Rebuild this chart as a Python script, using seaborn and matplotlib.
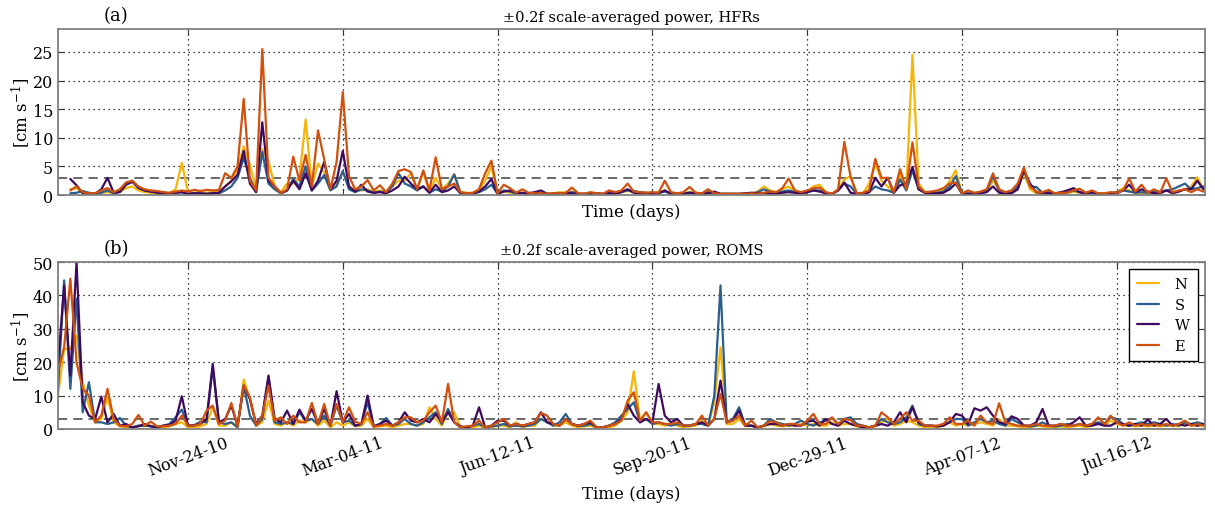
import numpy as np
import pandas as pd
import matplotlib
matplotlib.use("Agg")
import matplotlib.pyplot as plt
import matplotlib.dates as mdates
import seaborn as sns

nan = np.nan
start_date = "2010-09-01"
step_days = 4
end_date = "2012-09-11"
directions = ["N", "S", "W", "E"]
colors = ["#f5b50a", "#2a5e8c", "#3f0a5e", "#d0500e"]
tick_dates = ["2010-11-24", "2011-03-04", "2011-06-12", "2011-09-20",
              "2011-12-29", "2012-04-07", "2012-07-16"]
tick_labels = ["Nov-24-10", "Mar-04-11", "Jun-12-11", "Sep-20-11",
               "Dec-29-11", "Apr-07-12", "Jul-16-12"]
threshold = 3

# ---- (a) HFRs, one value every 4 days ----
hfr_N = [nan, nan, 1.0, 1.2, 0.4, 0.3, 0.3, 0.4, 0.5, 0.3,
         0.6, 1.2, 1.5, 0.8, 0.5, 0.4, 0.3, 0.2, 0.3, 1.0,
         5.6, 0.5, 0.4, 0.5, 0.4, 0.5, 0.6, 1.5, 2.5, 4.5,
         8.5, 5.3, 1.0, 8.0, 6.0, 1.5, 0.5, 2.0, 2.0, 3.0,
         13.2, 1.5, 5.5, 4.0, 1.0, 2.0, 4.0, 1.5, 0.8, 0.8,
         1.0, 0.5, 0.8, 0.6, 1.5, 2.5, 2.5, 3.8, 1.0, 4.0,
         0.5, 3.0, 1.0, 2.0, 3.6, 0.5, 0.4, 0.3, 0.8, 2.5,
         5.0, 0.3, 0.6, 0.4, 0.3, 0.4, 0.3, 0.3, 0.3, 0.2,
         0.3, 0.5, 0.4, 0.6, 0.3, 0.2, 0.3, 0.3, 0.2, 0.3,
         0.4, 0.5, 0.7, 0.5, 0.4, 0.3, 0.3, 0.5, 0.8, 0.3,
         0.2, 0.3, 0.5, 0.4, 0.3, 0.3, 0.3, 0.2, 0.2, 0.2,
         0.2, 0.2, 0.3, 0.6, 1.5, 0.8, 0.5, 1.0, 1.5, 0.6,
         0.4, 0.5, 1.5, 1.8, 0.5, 0.2, 1.0, 2.7, 3.3, 0.3,
         0.3, 2.0, 5.5, 2.5, 1.5, 0.5, 3.5, 1.0, 24.5, 2.0,
         0.5, 0.4, 0.4, 0.8, 2.5, 4.3, 0.3, 0.3, 0.3, 0.5,
         0.8, 2.5, 1.0, 0.4, 0.4, 1.0, 3.8, 1.0, 0.3, 0.3,
         0.4, 0.3, 0.2, 0.4, 0.6, 0.4, 0.3, 0.3, 0.2, 0.2,
         0.3, 0.5, 1.2, 0.8, 0.4, 0.3, 0.4, 0.3, 0.5, 0.8,
         0.5, 0.6, 1.0, 1.5, 3.1, 1.0]
hfr_S = [nan, nan, 0.3, 0.4, 0.7, 0.4, 0.2, 0.4, 0.8, 0.3,
         0.6, 2.0, 2.5, 1.2, 0.8, 0.6, 0.5, 0.4, 0.3, 0.4,
         0.5, 0.2, 0.3, 0.3, 0.2, 0.3, 0.3, 0.8, 1.5, 3.0,
         6.5, 3.0, 0.5, 7.5, 2.0, 1.0, 0.3, 0.8, 2.8, 1.5,
         5.0, 0.8, 2.0, 3.5, 0.8, 1.5, 4.2, 1.0, 0.5, 1.0,
         0.8, 0.4, 0.6, 0.4, 1.5, 3.8, 2.0, 1.5, 0.8, 1.5,
         0.4, 1.0, 0.6, 1.5, 3.6, 0.4, 0.3, 0.3, 0.5, 1.0,
         1.8, 0.2, 0.8, 0.6, 0.3, 0.4, 0.3, 0.3, 0.3, 0.2,
         0.2, 0.3, 0.3, 0.5, 0.2, 0.2, 0.3, 0.2, 0.2, 0.5,
         0.4, 0.6, 0.8, 0.7, 0.5, 0.4, 0.3, 0.4, 0.6, 0.3,
         0.2, 0.3, 0.4, 0.3, 0.3, 0.5, 0.3, 0.2, 0.2, 0.2,
         0.2, 0.2, 0.2, 0.5, 1.0, 0.6, 0.4, 0.6, 0.8, 0.5,
         0.3, 0.5, 0.8, 0.8, 0.3, 0.2, 0.8, 2.0, 1.5, 0.2,
         0.2, 0.5, 1.5, 1.0, 0.8, 0.4, 2.7, 0.8, 4.3, 1.0,
         0.4, 0.5, 0.4, 0.6, 1.5, 3.3, 0.3, 0.3, 0.2, 0.4,
         0.8, 3.3, 0.8, 0.3, 0.4, 1.5, 4.3, 1.5, 1.4, 0.4,
         0.5, 0.3, 0.3, 0.5, 0.8, 0.5, 0.3, 0.4, 0.2, 0.2,
         0.3, 0.5, 0.8, 0.6, 0.4, 0.5, 0.4, 0.6, 0.6, 0.8,
         1.0, 1.5, 2.0, 1.0, 1.2, 1.5]
hfr_W = [nan, nan, 2.8, 1.7, 0.3, 0.2, 0.2, 1.0, 3.0, 0.4,
         0.5, 1.8, 2.3, 1.3, 0.8, 0.6, 0.4, 0.3, 0.3, 0.4,
         0.5, 0.2, 0.3, 0.3, 0.2, 0.3, 0.4, 1.5, 2.4, 3.5,
         7.7, 2.0, 0.5, 12.7, 2.5, 1.5, 0.3, 0.8, 2.5, 1.0,
         3.8, 0.8, 2.5, 5.8, 1.0, 2.5, 7.7, 1.5, 0.6, 1.8,
         0.6, 0.4, 0.5, 0.3, 0.8, 1.5, 3.2, 2.0, 1.0, 1.5,
         0.4, 1.8, 0.5, 0.8, 1.5, 0.3, 0.2, 0.3, 0.6, 1.5,
         2.8, 0.2, 0.6, 0.8, 0.4, 0.3, 0.3, 0.5, 0.8, 0.2,
         0.2, 0.2, 0.3, 0.3, 0.2, 0.2, 0.2, 0.3, 0.2, 0.3,
         0.2, 0.5, 1.0, 0.4, 0.3, 0.3, 0.2, 0.3, 0.8, 0.2,
         0.2, 0.2, 0.4, 0.3, 0.2, 0.3, 0.6, 0.2, 0.2, 0.2,
         0.2, 0.3, 0.4, 0.3, 0.3, 0.3, 0.2, 0.4, 0.5, 0.4,
         0.3, 0.5, 0.8, 0.6, 0.3, 0.2, 0.8, 2.2, 0.4, 0.2,
         0.2, 0.5, 3.0, 1.5, 3.0, 0.4, 1.7, 2.0, 4.9, 1.0,
         0.4, 0.3, 0.3, 0.4, 1.0, 2.0, 0.2, 0.2, 0.2, 0.3,
         0.5, 1.5, 0.4, 0.2, 0.3, 1.0, 4.3, 2.0, 0.5, 0.4,
         0.3, 0.3, 0.5, 0.8, 1.2, 0.5, 0.3, 0.5, 0.2, 0.2,
         0.3, 0.3, 0.8, 1.8, 0.5, 1.0, 0.6, 0.3, 0.3, 0.8,
         0.3, 0.6, 1.0, 1.0, 2.5, 1.0]
hfr_E = [nan, nan, 0.8, 1.5, 0.5, 0.3, 0.3, 0.8, 1.2, 0.5,
         1.0, 2.2, 2.5, 1.5, 1.0, 0.8, 0.7, 0.5, 0.4, 0.6,
         0.8, 0.6, 0.9, 0.7, 0.9, 0.8, 0.9, 3.8, 3.0, 5.0,
         16.8, 2.5, 0.8, 25.5, 3.0, 1.5, 0.3, 1.0, 6.7, 2.5,
         7.0, 1.5, 11.3, 6.2, 1.0, 5.8, 18.0, 3.3, 1.0, 1.5,
         2.6, 0.8, 1.7, 0.5, 2.0, 4.2, 4.5, 4.0, 1.0, 4.3,
         0.8, 6.6, 1.0, 1.5, 2.0, 0.5, 0.3, 0.4, 1.0, 3.8,
         6.0, 0.3, 1.8, 1.2, 0.4, 1.0, 0.4, 0.3, 0.3, 0.2,
         0.3, 0.3, 0.4, 1.3, 0.3, 0.2, 0.5, 0.3, 0.2, 0.8,
         0.5, 0.8, 2.0, 0.6, 0.5, 0.4, 0.5, 0.4, 2.5, 0.5,
         0.3, 0.5, 1.4, 0.4, 0.3, 1.0, 0.3, 0.2, 0.2, 0.2,
         0.2, 0.2, 0.3, 0.2, 0.4, 0.6, 0.5, 1.2, 2.9, 0.8,
         0.5, 0.8, 1.2, 1.3, 0.5, 0.2, 1.0, 9.3, 3.2, 0.3,
         0.4, 0.8, 6.3, 3.0, 3.0, 0.5, 4.5, 1.0, 9.2, 1.5,
         0.5, 0.6, 0.8, 1.2, 2.0, 2.2, 0.3, 0.8, 0.4, 0.6,
         1.0, 3.8, 1.0, 0.5, 0.8, 2.0, 4.8, 1.5, 0.6, 0.5,
         0.9, 0.3, 0.4, 0.4, 0.8, 1.1, 0.4, 0.8, 0.3, 0.3,
         0.5, 0.4, 0.8, 2.9, 0.6, 1.8, 0.4, 1.0, 0.4, 2.9,
         0.5, 0.8, 1.0, 0.5, 1.0, 0.6]

# ---- (b) ROMS, one value every 4 days ----
roms_N = [10, 24, 24, 28, 14, 7, 2, 3, 9.5, 2,
          0.8, 0.5, 0.5, 1.0, 0.8, 1.0, 0.5, 0.5, 0.8, 1.5,
          2.0, 0.5, 0.5, 0.8, 1.5, 6.5, 1.0, 1.0, 2.0, 0.5,
          14.8, 9.0, 1.0, 2.0, 8.5, 1.5, 1.0, 2.0, 1.0, 2.5,
          2.0, 3.0, 1.0, 2.5, 0.5, 2.0, 1.0, 2.0, 0.8, 1.0,
          3.0, 0.5, 0.8, 1.0, 0.5, 1.0, 1.5, 1.5, 1.0, 1.5,
          6.5, 3.0, 1.0, 5.0, 5.0, 0.5, 0.5, 0.5, 1.0, 0.3,
          0.5, 1.0, 1.0, 0.5, 2.0, 0.5, 1.0, 1.0, 3.0, 2.5,
          1.0, 1.0, 2.0, 1.0, 0.5, 0.8, 1.0, 0.3, 0.3, 0.5,
          1.0, 2.5, 5.0, 17.3, 2.5, 5.0, 1.5, 1.5, 1.0, 1.5,
          1.0, 0.5, 0.8, 1.0, 2.5, 1.0, 8.0, 24.5, 1.5, 1.5,
          3.0, 0.8, 1.0, 0.3, 0.8, 1.5, 1.0, 0.8, 1.0, 1.0,
          1.5, 1.0, 1.5, 1.0, 1.0, 2.0, 1.0, 1.5, 1.5, 0.8,
          0.5, 0.3, 0.8, 2.0, 3.0, 1.0, 1.5, 2.5, 2.0, 1.0,
          0.5, 0.5, 0.5, 1.0, 2.0, 1.0, 1.5, 1.0, 1.5, 2.0,
          1.5, 1.0, 3.0, 1.0, 1.0, 0.8, 0.5, 0.5, 1.0, 0.8,
          0.5, 0.5, 0.8, 0.5, 0.8, 1.0, 0.5, 1.0, 2.0, 1.0,
          2.5, 1.5, 1.0, 1.0, 0.8, 1.0, 0.8, 1.0, 0.8, 1.0,
          1.0, 0.8, 1.5, 1.0, 1.0, 1.0]
roms_S = [12, 44.5, 12, 39, 5, 14, 2, 2, 1.5, 2,
          3.3, 1.0, 0.5, 1.0, 1.0, 0.8, 0.5, 1.0, 1.5, 3.5,
          5.8, 1.0, 1.0, 2.2, 2.0, 18.5, 2.0, 1.5, 2.0, 0.5,
          13, 4.0, 1.0, 3.0, 15.5, 2.0, 1.5, 2.0, 1.5, 5.0,
          2.5, 3.0, 1.5, 4.0, 1.0, 7.0, 2.0, 2.5, 1.0, 1.5,
          8.0, 0.8, 1.5, 3.3, 1.0, 1.5, 3.0, 1.5, 1.0, 2.0,
          3.5, 5.0, 1.5, 6.0, 2.0, 0.5, 0.5, 1.0, 1.5, 0.5,
          0.8, 1.0, 1.5, 0.8, 1.0, 0.8, 1.0, 1.5, 3.0, 2.0,
          1.0, 2.0, 4.5, 1.5, 1.0, 1.0, 1.5, 0.5, 0.5, 1.0,
          2.0, 4.0, 6.0, 8.0, 2.0, 3.0, 1.5, 2.0, 1.5, 1.0,
          1.5, 1.0, 1.0, 1.5, 1.5, 1.0, 10, 43, 2.0, 3.0,
          6.5, 1.0, 1.0, 0.5, 1.0, 3.0, 2.0, 1.5, 1.0, 1.5,
          2.5, 1.5, 1.0, 2.0, 2.5, 3.3, 1.5, 3.0, 3.5, 1.5,
          1.0, 0.5, 1.0, 3.0, 2.0, 1.5, 2.0, 3.5, 7.0, 1.5,
          1.0, 1.0, 0.8, 1.5, 2.0, 3.0, 3.0, 1.0, 2.0, 3.0,
          2.0, 2.5, 1.5, 1.0, 3.0, 2.0, 1.0, 0.8, 1.0, 2.0,
          1.0, 0.8, 1.0, 1.5, 1.0, 1.5, 1.0, 1.5, 2.0, 1.5,
          3.5, 3.0, 1.5, 1.0, 1.5, 2.0, 1.5, 2.0, 1.5, 1.0,
          1.5, 1.0, 2.0, 1.5, 2.0, 1.5]
roms_W = [19, 42.9, 16, 50, 8, 4, 3, 9.7, 2, 4.5,
          1.0, 1.5, 0.5, 0.8, 1.5, 0.8, 0.5, 1.0, 1.2, 2.5,
          9.8, 1.0, 1.2, 1.5, 3.0, 19.5, 2.0, 3.0, 7.0, 1.0,
          13, 9, 1.5, 4, 16, 3, 2, 5.5, 1.5, 5.8,
          2.5, 6.0, 1.5, 6.0, 1.0, 11.3, 2.0, 4.5, 1.0, 1.5,
          10, 0.8, 1.5, 2.5, 1.0, 2.0, 5.0, 2.5, 2.0, 3.0,
          2.0, 4.5, 2.0, 5.0, 2.0, 0.8, 0.5, 1.0, 6.5, 0.5,
          1.0, 2.5, 2.5, 1.0, 1.5, 1.0, 1.5, 2.0, 5.0, 2.0,
          1.5, 1.0, 3.0, 1.5, 1.0, 1.5, 2.0, 0.5, 0.5, 1.0,
          1.5, 3.0, 7.5, 4.0, 2.0, 3.0, 2.0, 13.5, 4.0, 2.0,
          3.0, 1.0, 1.0, 1.5, 2.0, 1.0, 3.0, 14.5, 2.0, 2.5,
          5.5, 1.0, 1.0, 0.5, 1.0, 1.5, 1.5, 1.0, 1.5, 1.0,
          1.0, 2.2, 2.5, 1.0, 3.0, 1.5, 1.0, 2.5, 1.5, 1.0,
          0.5, 0.5, 1.0, 1.5, 1.0, 2.0, 5.0, 2.0, 6.5, 2.0,
          1.0, 1.0, 0.8, 1.0, 2.0, 4.5, 4.0, 1.5, 6.2, 5.5,
          6.5, 4.0, 2.0, 1.5, 3.8, 3.0, 1.0, 1.0, 2.0, 6.0,
          1.0, 1.0, 1.5, 1.0, 2.0, 3.5, 1.0, 1.0, 1.5, 1.0,
          1.0, 2.0, 1.5, 1.0, 1.5, 1.0, 2.8, 1.0, 1.5, 3.0,
          1.0, 1.5, 1.0, 1.5, 1.0, 1.5]
roms_E = [17, 24.5, 45, 20, 12, 10, 2, 4, 12, 3,
          1.0, 0.8, 1.5, 4.2, 1.0, 2.2, 0.8, 0.8, 1.0, 1.5,
          4.0, 1.0, 1.0, 1.5, 5.5, 7.0, 1.5, 2.5, 7.8, 0.8,
          13, 9.5, 1.0, 4.0, 13, 2.5, 3.5, 1.5, 4.0, 2.0,
          2.0, 7.8, 1.5, 7.5, 1.0, 7.5, 2.0, 6.5, 2.2, 1.5,
          5.0, 0.8, 1.0, 1.5, 1.0, 2.0, 3.5, 3.5, 2.0, 2.5,
          5.0, 7.0, 2.0, 13.5, 2.0, 0.5, 0.8, 1.0, 2.5, 0.5,
          1.0, 2.0, 3.0, 1.0, 1.5, 1.0, 1.5, 2.0, 4.8, 4.0,
          1.5, 1.0, 3.0, 1.5, 1.0, 1.5, 2.5, 0.5, 0.5, 1.0,
          1.5, 2.5, 8.5, 11, 2.5, 5.0, 2.0, 2.0, 1.5, 1.5,
          2.0, 1.0, 1.0, 1.5, 4.0, 1.0, 3.0, 10.5, 2.0, 2.5,
          4.0, 1.0, 2.5, 0.5, 1.0, 2.3, 2.0, 1.0, 1.5, 1.5,
          1.0, 2.5, 4.5, 1.5, 1.5, 3.5, 1.5, 3.0, 2.7, 1.0,
          1.0, 0.5, 1.0, 5.0, 3.5, 1.5, 3.0, 5.0, 2.5, 2.5,
          1.0, 1.0, 1.0, 1.5, 3.5, 1.5, 1.5, 2.5, 1.0, 4.0,
          2.0, 1.5, 7.7, 2.0, 1.5, 1.0, 1.0, 1.0, 1.5, 1.0,
          1.0, 1.0, 1.5, 1.0, 1.0, 1.5, 1.0, 1.5, 3.5, 1.5,
          4.0, 2.0, 1.0, 2.0, 1.0, 1.5, 1.0, 1.5, 1.0, 1.5,
          1.0, 1.5, 2.5, 1.0, 1.5, 1.0]


def long_frame(series):
    dates = pd.date_range(start_date, periods=len(series[0]), freq=f"{step_days}D")
    parts = []
    for name, vals in zip(directions, series):
        parts.append(pd.DataFrame({"date": dates, "value": vals, "dir": name}))
    return pd.concat(parts, ignore_index=True).dropna()


df_a = long_frame([hfr_N, hfr_S, hfr_W, hfr_E])
df_b = long_frame([roms_N, roms_S, roms_W, roms_E])

sns.set_style("ticks")
plt.rcParams["font.family"] = ["DejaVu Serif"]
plt.rcParams["mathtext.fontset"] = "dejavuserif"
plt.rcParams["xtick.direction"] = "in"
plt.rcParams["ytick.direction"] = "in"
for key in ["text.color", "axes.labelcolor", "xtick.labelcolor", "ytick.labelcolor"]:
    plt.rcParams[key] = "black"

fig = plt.figure(figsize=(12.15, 5.06), dpi=100)
ax_a = fig.add_axes([0.0477, 0.6126, 0.9441, 0.3281])
ax_b = fig.add_axes([0.0477, 0.1502, 0.9441, 0.3300])
palette = dict(zip(directions, colors))

for ax, df, ylim, yticks, title, letter in [
    (ax_a, df_a, (0, 29), [0, 5, 10, 15, 20, 25], "±0.2f scale-averaged power, HFRs", "(a)"),
    (ax_b, df_b, (0, 50), [0, 10, 20, 30, 40, 50], "±0.2f scale-averaged power, ROMS", "(b)"),
]:
    sns.lineplot(data=df, x="date", y="value", hue="dir", hue_order=directions,
                 palette=palette, linewidth=1.6, ax=ax, legend=(ax is ax_b))
    ax.axhline(threshold, color="0.25", linestyle=(0, (6, 4)), linewidth=1.1, zorder=1)
    ax.set_xlim(pd.Timestamp(start_date), pd.Timestamp(end_date))
    ax.set_ylim(*ylim)
    ax.set_yticks(yticks)
    ax.set_xticks([pd.Timestamp(d) for d in tick_dates])
    ax.grid(True, color="black", linestyle=(0, (1, 3)), linewidth=0.9)
    ax.tick_params(axis="both", which="both", direction="in", top=True, right=True,
                   length=4, color="0.2", labelsize=11.5, labelcolor="black")
    for sp in ax.spines.values():
        sp.set_color("0.5")
        sp.set_linewidth(1.3)
    ax.set_ylabel("[cm s$^{-1}$]", fontsize=12, labelpad=0, color="black")
    ax.set_xlabel("Time (days)", fontsize=12, labelpad=2, color="black")
    ax.set_title(title, fontsize=10.5, pad=6, color="black")
    ax.text(0.04, 1.03, letter, transform=ax.transAxes, fontsize=13, ha="left",
            va="bottom", color="black")

ax_a.set_xticklabels([])
ax_b.set_xticklabels(tick_labels, rotation=20, ha="center")
ax_b.xaxis.labelpad = 4

leg = ax_b.legend(loc="upper right", frameon=True, fancybox=False, fontsize=10.5,
                  handlelength=1.5, borderpad=0.55, labelspacing=0.45, handletextpad=1.1,
                  borderaxespad=0.5)
leg.get_frame().set_edgecolor("black")
leg.get_frame().set_linewidth(1.0)
leg.get_frame().set_alpha(1)
for t in leg.get_texts():
    t.set_color("black")

fig.savefig("out.png", dpi=100)
